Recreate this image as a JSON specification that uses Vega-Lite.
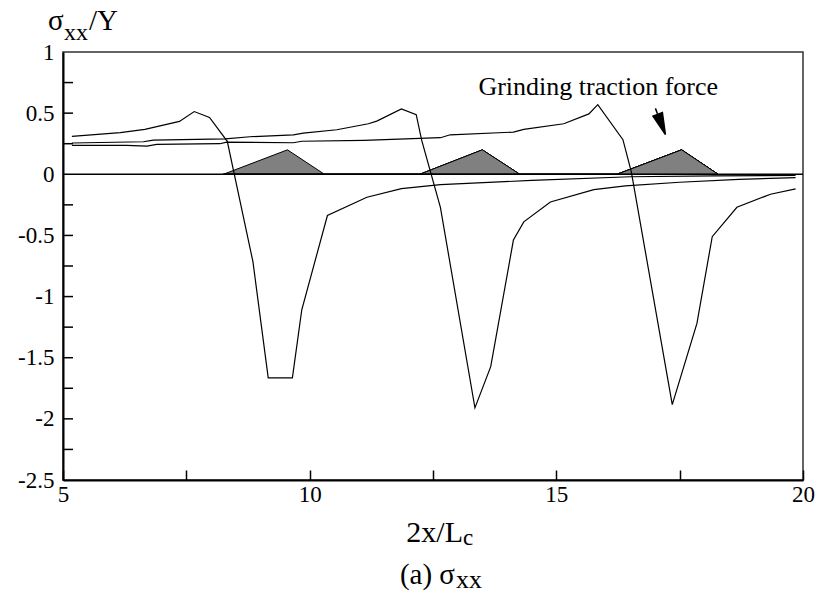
{
  "$schema": "https://vega.github.io/schema/vega-lite/v6.json",
  "autosize": {"type": "none"},
  "padding": {"left": 63, "top": 52, "right": 18, "bottom": 116},
  "width": 740,
  "height": 428,
  "background": "white",
  "data": {"values": [{"anchor": 1}]},
  "config": {
    "view": {"stroke": "#333333", "strokeWidth": 1.5},
    "font": "Liberation Serif"
  },
  "layer": [
    {
      "data": {"values": [
        {"tri": 1, "x": 8.25, "y": 0}, {"tri": 1, "x": 9.55, "y": 0.2}, {"tri": 1, "x": 10.3, "y": 0},
        {"tri": 2, "x": 12.23, "y": 0}, {"tri": 2, "x": 13.5, "y": 0.2}, {"tri": 2, "x": 14.26, "y": 0},
        {"tri": 3, "x": 16.23, "y": 0}, {"tri": 3, "x": 17.54, "y": 0.2}, {"tri": 3, "x": 18.28, "y": 0}
      ]},
      "mark": {"type": "area", "fill": "#808080", "fillOpacity": 1, "stroke": "black", "strokeWidth": 1},
      "encoding": {
        "x": {"field": "x", "type": "quantitative",
          "scale": {"domain": [5, 20], "nice": false, "zero": false},
          "axis": {"values": [5, 7.5, 10, 12.5, 15, 17.5, 20],
            "labelExpr": "datum.value % 5 === 0 ? toString(datum.value) : ''",
            "title": null, "grid": false, "tickSize": -10, "labelPadding": 13,
            "labelFlush": false, "labelOverlap": false,
            "domainColor": "black", "domainWidth": 2, "tickColor": "black", "tickWidth": 1.5,
            "labelFont": "Liberation Serif", "labelFontSize": 23, "labelColor": "black"}},
        "y": {"field": "y", "type": "quantitative",
          "scale": {"domain": [-2.5, 1], "nice": false, "zero": false},
          "axis": {"values": [-2.5, -2, -1.5, -1, -0.5, 0, 0.5, 1],
            "labelExpr": "toString(datum.value)",
            "title": null, "grid": false, "ticks": false, "labelPadding": 9,
            "labelFlush": false, "labelOverlap": false,
            "domainColor": "black", "domainWidth": 2,
            "labelFont": "Liberation Serif", "labelFontSize": 23, "labelColor": "black"}},
        "detail": {"field": "tri"}
      }
    },
    {
      "data": {"values": [
        {"t": -2.25}, {"t": -2}, {"t": -1.75}, {"t": -1.5}, {"t": -1.25}, {"t": -1}, {"t": -0.75},
        {"t": -0.5}, {"t": -0.25}, {"t": 0.25}, {"t": 0.5}, {"t": 0.75}
      ]},
      "mark": {"type": "rule", "color": "black", "strokeWidth": 1.5},
      "encoding": {
        "y": {"field": "t", "type": "quantitative"},
        "x": {"datum": 5, "type": "quantitative"},
        "x2": {"datum": 5.203}
      }
    },
    {
      "mark": {"type": "rule", "color": "black", "strokeWidth": 1.5},
      "encoding": {"y": {"datum": 0, "type": "quantitative"}}
    },
    {
      "data": {"values": [
        {"s": "A", "x": 5.18, "y": 0.31}, {"s": "A", "x": 6.16, "y": 0.34}, {"s": "A", "x": 6.66, "y": 0.367},
        {"s": "A", "x": 7.36, "y": 0.432}, {"s": "A", "x": 7.66, "y": 0.513}, {"s": "A", "x": 7.97, "y": 0.465},
        {"s": "A", "x": 8.33, "y": 0.27}, {"s": "A", "x": 8.85, "y": -0.715}, {"s": "A", "x": 9.16, "y": -1.665},
        {"s": "A", "x": 9.65, "y": -1.665}, {"s": "A", "x": 9.84, "y": -1.108}, {"s": "A", "x": 10.36, "y": -0.337},
        {"s": "A", "x": 11.16, "y": -0.188}, {"s": "A", "x": 11.86, "y": -0.117}, {"s": "A", "x": 12.65, "y": -0.084},
        {"s": "A", "x": 14.5, "y": -0.05}, {"s": "A", "x": 16.5, "y": -0.02}, {"s": "A", "x": 18.2, "y": -0.013},
        {"s": "A", "x": 19.85, "y": -0.01},

        {"s": "B", "x": 5.18, "y": 0.256}, {"s": "B", "x": 6.63, "y": 0.266}, {"s": "B", "x": 6.83, "y": 0.28},
        {"s": "B", "x": 8.29, "y": 0.29}, {"s": "B", "x": 8.79, "y": 0.307}, {"s": "B", "x": 9.67, "y": 0.323},
        {"s": "B", "x": 9.87, "y": 0.337}, {"s": "B", "x": 10.55, "y": 0.364}, {"s": "B", "x": 11.19, "y": 0.413},
        {"s": "B", "x": 11.36, "y": 0.435}, {"s": "B", "x": 11.86, "y": 0.535}, {"s": "B", "x": 12.16, "y": 0.487},
        {"s": "B", "x": 12.27, "y": 0.28}, {"s": "B", "x": 12.65, "y": -0.27}, {"s": "B", "x": 13.35, "y": -1.91},
        {"s": "B", "x": 13.67, "y": -1.573}, {"s": "B", "x": 14.13, "y": -0.538}, {"s": "B", "x": 14.34, "y": -0.389},
        {"s": "B", "x": 14.88, "y": -0.226}, {"s": "B", "x": 15.76, "y": -0.125}, {"s": "B", "x": 16.4, "y": -0.095},
        {"s": "B", "x": 17.5, "y": -0.065}, {"s": "B", "x": 18.7, "y": -0.042}, {"s": "B", "x": 19.85, "y": -0.027},

        {"s": "C", "x": 5.18, "y": 0.236}, {"s": "C", "x": 6.29, "y": 0.236}, {"s": "C", "x": 6.7, "y": 0.23},
        {"s": "C", "x": 6.9, "y": 0.244}, {"s": "C", "x": 8.18, "y": 0.25}, {"s": "C", "x": 8.32, "y": 0.263},
        {"s": "C", "x": 9.67, "y": 0.258}, {"s": "C", "x": 9.84, "y": 0.27}, {"s": "C", "x": 11.1, "y": 0.277},
        {"s": "C", "x": 12.65, "y": 0.299}, {"s": "C", "x": 12.85, "y": 0.323}, {"s": "C", "x": 14.13, "y": 0.345},
        {"s": "C", "x": 14.34, "y": 0.367}, {"s": "C", "x": 15.15, "y": 0.413}, {"s": "C", "x": 15.66, "y": 0.494},
        {"s": "C", "x": 15.84, "y": 0.57}, {"s": "C", "x": 16.35, "y": 0.283}, {"s": "C", "x": 16.52, "y": 0.02},
        {"s": "C", "x": 17.35, "y": -1.883}, {"s": "C", "x": 17.85, "y": -1.22}, {"s": "C", "x": 18.16, "y": -0.51},
        {"s": "C", "x": 18.66, "y": -0.27}, {"s": "C", "x": 19.34, "y": -0.163}, {"s": "C", "x": 19.85, "y": -0.12}
      ]},
      "mark": {"type": "line", "color": "black", "strokeWidth": 1.2},
      "encoding": {
        "x": {"field": "x", "type": "quantitative"},
        "y": {"field": "y", "type": "quantitative"},
        "detail": {"field": "s"},
        "order": {"field": "x", "type": "quantitative"}
      }
    },
    {
      "mark": {"type": "text", "text": "Grinding traction force", "font": "Liberation Serif", "fontSize": 26, "align": "center", "baseline": "alphabetic", "color": "black"},
      "encoding": {"x": {"datum": 15.85, "type": "quantitative"}, "y": {"datum": 0.648, "type": "quantitative"}}
    },
    {
      "mark": {"type": "point", "shape": "M0,-1L0,-0.55M-0.36,-0.55L0.36,-0.55L0,1Z", "size": 784, "angle": 339, "filled": true, "fill": "black", "stroke": "black", "strokeWidth": 1.5, "opacity": 1},
      "encoding": {"x": {"datum": 17.11, "type": "quantitative"}, "y": {"datum": 0.432, "type": "quantitative"}}
    },
    {
      "mark": {"type": "text", "text": "σ", "font": "Liberation Serif", "fontSize": 29, "align": "left", "baseline": "alphabetic", "dx": -15, "dy": -22, "color": "black"},
      "encoding": {"x": {"datum": 5, "type": "quantitative"}, "y": {"datum": 1, "type": "quantitative"}}
    },
    {
      "mark": {"type": "text", "text": "xx", "font": "Liberation Serif", "fontSize": 24, "align": "left", "baseline": "alphabetic", "dx": 1, "dy": -12, "color": "black"},
      "encoding": {"x": {"datum": 5, "type": "quantitative"}, "y": {"datum": 1, "type": "quantitative"}}
    },
    {
      "mark": {"type": "text", "text": "/Y", "font": "Liberation Serif", "fontSize": 29, "align": "left", "baseline": "alphabetic", "dx": 26, "dy": -22, "color": "black"},
      "encoding": {"x": {"datum": 5, "type": "quantitative"}, "y": {"datum": 1, "type": "quantitative"}}
    },
    {
      "mark": {"type": "text", "text": "2x/L", "font": "Liberation Serif", "fontSize": 30, "align": "right", "baseline": "alphabetic", "dx": 30, "dy": 62, "color": "black"},
      "encoding": {"x": {"datum": 12.5, "type": "quantitative"}, "y": {"datum": -2.5, "type": "quantitative"}}
    },
    {
      "mark": {"type": "text", "text": "c", "font": "Liberation Serif", "fontSize": 23, "align": "left", "baseline": "alphabetic", "dx": 30, "dy": 65, "color": "black"},
      "encoding": {"x": {"datum": 12.5, "type": "quantitative"}, "y": {"datum": -2.5, "type": "quantitative"}}
    },
    {
      "mark": {"type": "text", "text": "(a) σ", "font": "Liberation Serif", "fontSize": 29, "align": "right", "baseline": "alphabetic", "dx": 22, "dy": 104, "color": "black"},
      "encoding": {"x": {"datum": 12.5, "type": "quantitative"}, "y": {"datum": -2.5, "type": "quantitative"}}
    },
    {
      "mark": {"type": "text", "text": "xx", "font": "Liberation Serif", "fontSize": 26, "align": "left", "baseline": "alphabetic", "dx": 23, "dy": 108, "color": "black"},
      "encoding": {"x": {"datum": 12.5, "type": "quantitative"}, "y": {"datum": -2.5, "type": "quantitative"}}
    }
  ]
}
